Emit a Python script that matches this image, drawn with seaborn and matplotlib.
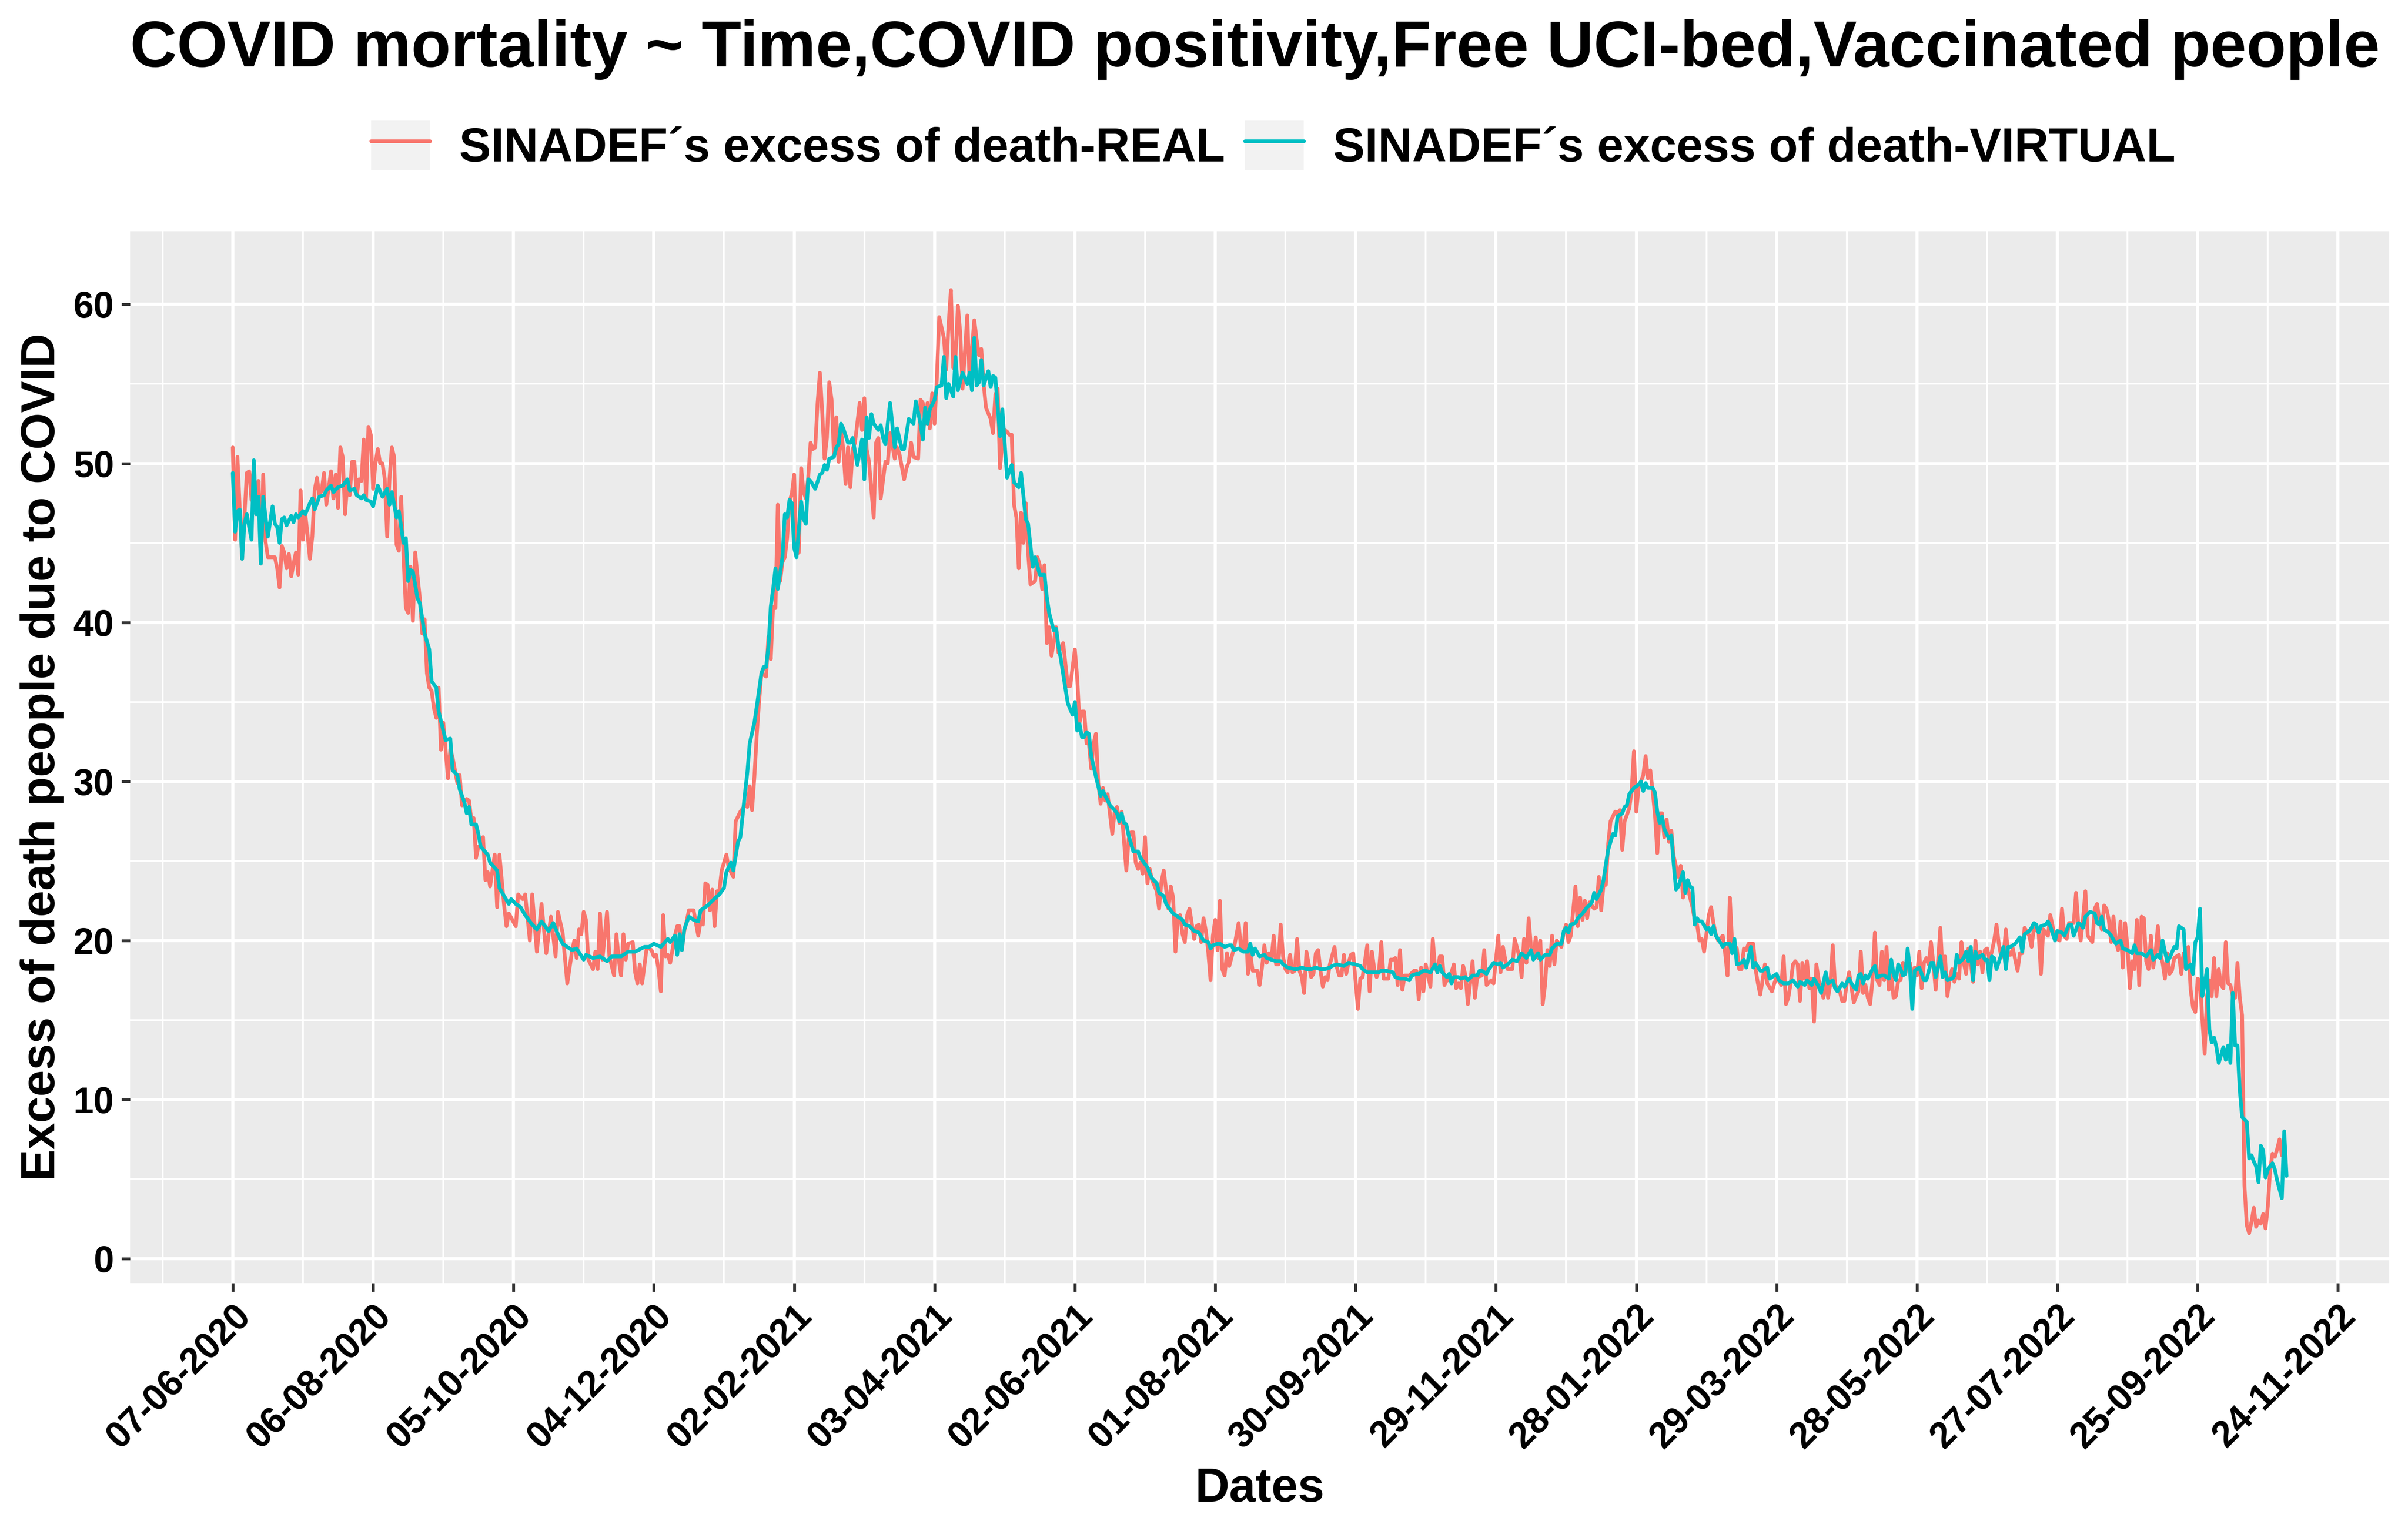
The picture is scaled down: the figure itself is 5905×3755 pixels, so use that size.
import numpy as np
import pandas as pd
import matplotlib
matplotlib.use("Agg")
import matplotlib.pyplot as plt
import matplotlib.dates as mdates
from matplotlib.ticker import FixedLocator, NullFormatter
from matplotlib.patches import Patch
from matplotlib.lines import Line2D
from matplotlib.legend_handler import HandlerTuple
import seaborn as sns

# days counted from the first date of the series
start = pd.Timestamp("2020-06-07")

real_day = [0,1,2,3,4,6,7,8,9,10, 11,12,13,14,15,16,18,19,20,21, 22,23,24,25,26,27,28,29,30,31,
            32,33,34,35,36,37,38,39,40,42, 43,44,45,46,47,48,49,50,51,52, 53,54,55,56,57,58,59,60,61,62,
            63,64,65,66,67,68,69,70,71,72, 73,74,75,76,77,78,79,80,81,82, 83,84,85,86,87,88,89,90,92,93,
            94,95,96,97,98,100,101,102,103,104, 105,106,107,108,109,110,112,113,114,116,
            117,118,121,122,124,125,127,128,130,132, 134,136,138,139,141,143,145,146,147,148,
            149,150,151,152,154,155,156,157,158,160, 161,163,164,165,166,167,168,169,171,172,
            173,174,175,177,179,180,181,182,183,184, 185,186,187,189,190,191,192,193,194,195,
            197,199,200,201,202,203,204,205,206,207, 208,209,211,212,213,214,215,217,219,220,
            221,222,223,224,225,226,228,229,230,231, 232,233,234,235,236,237,238,239,240,241,
            242,243,244,245,246,247,248,249,250,251, 252,253,254,255,256,257,258,259,260,261,
            262,263,264,265,266,268,269,270,271,272, 274,275,276,277,279,280,281,283,284,285,
            287,288,289,290,291,293,294,295,296,297, 298,299,300,301,302,304,305,306,307,308,
            309,310,311,312,314,315,316,317,318,319, 320,321,322,324,325,326,327,328,329,330,
            331,332,333,334,335,336,337,338,339,340, 341,343,344,345,346,347,348,349,350,351,
            352,353,355,357,358,360,361,362,363,364, 365,366,367,368,369,370,371,372,373,374,
            376,377,378,379,380,382,383,384,385,386, 387,388,389,390,391,392,393,395,396,397,
            398,400,401,402,403,404,405,406,407,408, 409,411,412,413,414,415,416,417,418,419,
            420,421,422,423,424,425,426,428,430,431, 432,433,434,435,436,438,439,440,441,442,
            443,444,445,446,447,448,449,450,451,452, 453,454,455,456,457,458,459,460,461,462,
            463,464,465,466,467,468,469,471,472,473, 474,475,476,477,478,479,481,482,483,484,
            485,486,487,488,489,490,491,492,494,495, 496,497,498,499,500,501,503,505,506,507,
            508,509,510,512,513,514,515,516,517,518, 519,520,522,523,524,525,526,527,528,530,
            531,532,534,535,536,538,539,541,542,543, 544,545,547,548,550,551,552,553,554,555,
            556,557,558,559,560,561,562,563,564,565, 566,568,569,570,571,572,574,575,576,577,
            578,579,580,582,583,584,585,586,587,588, 589,591,592,593,594,595,597,598,599,600,
            601,603,604,605,606,607,608,609,610,611, 612,613,614,615,616,618,619,620,621,622,
            624,625,626,627,628,629,631,632,633,634, 635,637,638,639,640,641,642,643,644,645,
            646,647,648,650,651,652,653,654,655,656, 658,659,660,662,663,664,665,666,667,668,
            669,670,671,672,673,674,675,676,677,678, 680,681,682,683,684,685,687,688,689,690,
            691,693,694,695,696,697,698,699,700,701, 702,703,704,705,706,707,708,709,710,711,
            712,713,714,715,716,717,718,719,720,721, 722,723,724,725,726,727,728,729,730,731,
            732,733,734,735,736,737,738,739,740,741, 742,743,744,745,746,747,748,749,750,751,
            752,753,754,755,756,757,758,759,760,761, 763,764,765,766,768,769,770,772,773,774,
            776,777,778,779,781,782,783,784,785,787, 788,789,790,791,792,793,794,795,796,797,
            798,799,800,801,802,803,804,805,806,807, 808,809,810,811,812,813,814,815,816,817,
            818,819,820,821,822,823,824,825,826,827, 828,829,830,832,833,834,835,836,837,838,
            839,840,841,842,843,844,845,846,847,848, 849,850,851,852,853,854,855,856,857,858,
            859,860,861,862,863,864,865,866,867,868, 869,870,871,872,873,874,875,876]
real_val = [51,45.2,50.4,47.1,44,49.4,49.5,47.7,49.9,46.8, 48.9,43.7,49.3,45.1,44.1,44.1,44.1,43.4,42.2,44.8,
            44.4,43.4,44.3,42.9,43.7,44.4,43,48.3,45.2,46.8, 45.5,44,45.4,48.3,49.1,48,48.3,49.4,47.4,49.5,
            47.8,49.3,47.2,51,50.4,46.8,48.8,48,50.1,50.1, 48,49,48.9,51.5,47.8,52.3,51.8,48.4,50,50.9,
            50,50,49,45.4,49,51,50.4,44.9,44.5,47.9, 44.1,40.9,40.6,43.5,40.1,44.4,42.9,41.5,39.3,40.2,
            36.8,35.9,35.7,34.6,34,35.9,32,33.7,30.2,32, 31.5,30.7,29.9,30.4,28.5,28.9,28.8,27.6,27.7,25.2,
            25.9,25.9,26.5,23.8,24.3,23.4,25.4,22.1,25.4,22.2, 20.9,21.7,20.9,22.9,22.6,22.9,20,22.9,19.3,22.3,
            19.2,21.5,19,21.8,20.5,17.3,19.3,20,18.9,20.7, 20.4,21.8,21.3,18.8,18.2,19.3,18.2,21.7,18.8,21.8,
            19,17.8,20.4,18.8,17.8,20.4,18.8,19.8,19.9,18, 17.3,18.5,17.3,19.6,19.4,19,19.1,18.2,16.8,21.6,
            19,19.1,18.6,20.3,20.9,20.9,19.4,20.6,21.2,21.9, 21.9,20.3,21.2,21,23.6,23.5,21.9,23.2,20.9,23.1,
            23.1,24.4,25.4,24.6,24.3,24,27.5,28.1,28.5,28.4, 29.7,28.2,30.3,32.9,35,36.8,36.6,39.1,37.7,41,
            40.9,47.4,42.6,43.8,44.1,45.3,47.6,48.1,49.3,44.3, 44.4,49.7,48.2,47.8,49.1,51.3,50.9,51,53.8,55.7,
            53.2,50.3,51.6,55.1,54,50.6,52.9,50.1,52.1,50.9, 48.7,51,48.5,50.9,51.3,53.8,52.1,54.1,50.9,50.1,
            46.6,51.3,51.6,47.8,50.1,50,51.9,50.3,51,50.6, 49,49.7,50.1,51.3,50.4,50.3,54,53.8,52.5,53.8,
            52.2,54.4,52.5,55.4,59.2,57.9,55.9,58.7,60.9,56, 56.8,59.9,58.2,54.7,59.3,55.1,57.2,59,57.8,56.8,
            57.2,55,53.5,52.8,51.9,54.3,54.7,49.7,51.3,52.1, 52,51.8,51.8,47.4,46.6,43.4,46.9,45,47.5,44.4,
            42.4,42.6,44.1,43.6,42.1,43.6,38.7,39.7,37.9,38.8, 39.7,38.1,38.7,36,36,38.3,36.5,33.7,34.4,34.4,
            32.4,32.4,30.8,32.4,33,29.9,28.6,29.6,28.8,29.2, 26.7,28.1,28.4,27.4,28.1,24.4,26.4,26.8,26.8,24.9,
            24.5,24.9,24.2,26.5,23.6,24.5,23.8,23.1,22,23.7, 24.4,22,23.4,22.7,19.3,21.4,21.6,20.4,19.9,21.6,
            22,20.1,20.9,21,19.9,21.4,20.6,19.3,17.5,20.3, 21.3,19.4,22.5,18.2,17.8,19.2,18.4,19.5,21.1,19.5,
            19.5,21.1,17.9,19.2,18.1,18.1,17.2,18.3,19.7,18.6, 19.2,18.8,20.3,18.5,18.5,21,19,18.2,18,19.1,
            18,18.1,20.1,18.1,17.7,16.7,19.3,18.5,17.7,17.9, 19.2,19.4,18.1,17.1,17.7,17.5,18.5,19.6,18.3,17.8,
            17.8,19.1,17.9,18.6,19.1,19.2,15.7,17.6,17.7,18.7, 19.7,16.8,19.3,18.2,17.7,18.1,19.9,17.6,17.6,18.8,
            18.8,18.9,17.2,19.4,16.9,17.8,17.8,18.1,18.1,16.3, 18.3,16.8,18.5,17.1,20.1,18.3,18,19,19,17.2,
            17.5,17.5,18.5,17,17.3,17,18.4,17.8,16,18.7, 16.4,17.7,17.8,19.4,17.2,17.5,17.3,20.3,18,19.6,
            18.8,18.2,18.2,20.1,19,17.7,20.1,18.6,21.4,19.6, 18.9,20.2,18.9,20,16,17.2,19.4,18.4,20.3,18.5,
            20,19.6,20.5,21,19.9,20.3,23.4,20.9,22.7,21.3, 22.5,21.4,22.4,22,22.1,24,21.9,23.5,23.5,26.1,
            27.5,28.1,28,28.2,25.7,27.5,28.3,29.4,31.9,28.1, 29.6,30.4,31.6,30.2,30.7,29.4,27.9,25.5,28,28,
            26.5,27.6,26.2,26.9,25.3,24,24.7,22.7,23.7,23.3, 22.1,21.3,21,20,20.1,19.3,21.6,22.1,21.1,20.4,
            20,20.3,19.2,17.8,22.7,19.8,19.7,19.5,18.2,18.2, 19.5,19.4,19.8,19.8,18.2,17.3,16.6,17.5,18.5,17.3,
            16.8,17.3,17.7,17.2,19,16,16.4,17.3,18.5,18.7, 18.5,16.2,18.6,17.6,18.7,17,17.6,14.9,18.5,17.5,
            16.4,17.5,16.4,17.3,19.7,17.2,16.8,16.2,16.2,17.3, 18,16.1,16.5,16.8,19.3,16.7,17.2,16.4,16,17.5,
            20.5,17.5,17.2,19.3,17.5,19.6,16.9,17.9,16.4,16.5, 17.5,17.5,18.6,17.9,18.6,18.6,17.5,18.3,17.8,19.3,
            17,18.6,18.9,18.5,19.9,18.6,16.9,18.7,20.8,17.9, 19,16.5,17.6,18.2,17.4,17.9,17.6,19.9,18.6,17.9,
            19.5,18.6,17.4,20,18.5,19.3,18,19.4,19.5,18.8, 19.3,20,21,19.8,19,19,20.7,19.1,19.1,19.5,
            18.1,19.2,19.2,20.8,20.3,19.6,20.8,20.5,17.9,20.7, 20.3,21.6,20.9,20.2,20,22,20.3,20.1,21.1,21.1,
            23,21,20,21.4,23.1,20.3,20.1,19.9,22,22.3, 21.3,20.7,22.2,22,21.3,19.9,21.5,20,19.4,21.2,
            18.3,21.1,19.6,17,18.7,18.2,21.3,17.2,21.5,21.4, 18.7,18.2,20.3,18.3,19.3,20.9,19.2,18.6,17.6,19.2,
            17.9,18.1,18.9,19.1,17.9,19.2,18.2,19.6,16.9,15.8, 15.5,17.6,17.5,15,12.9,16.5,17.5,16.5,18.9,16.5,
            18.2,17.2,17,19.9,17.3,17.2,16.5,16.4,18.6,16.4, 15.3,4.6,2.1,1.6,2.3,3.2,2,2.4,2.2,2.8,
            1.9,3.3,5.6,6.6,6.4,6.9,7.5,6.5]

virt_day = [0,1,2,3,4,5,6,8,9,10, 11,12,13,15,17,18,19,20,21,22, 23,25,26,27,28,30,31,33,34,35,
            37,39,40,42,43,45,47,49,50,52, 53,55,56,57,59,60,62,64,66,67, 68,70,71,73,74,75,76,77,79,80,
            82,83,84,85,87,88,90,91,93,94, 96,97,99,100,101,102,104,105,106,109, 110,113,114,116,118,119,121,123,125,127,
            128,130,132,135,137,139,141,144,145,147, 150,151,154,157,160,162,166,169,172,176,
            178,180,183,186,187,189,190,191,192,193, 195,197,199,200,203,205,208,210,211,213,
            214,216,217,219,220,221,223,224,226,227, 228,229,230,231,232,233,235,236,237,238,
            239,240,241,243,244,245,246,247,249,251, 252,253,254,255,257,258,259,260,261,263,
            264,265,267,269,270,271,272,273,274,276, 277,278,279,281,283,284,286,287,289,291,
            292,294,295,296,297,298,300,301,303,304, 305,306,308,309,310,312,314,315,316,317,
            318,319,320,321,323,324,325,326,328,329, 331,333,334,336,337,339,340,342,343,345,
            346,347,348,349,351,352,353,354,356,357, 359,360,361,362,363,364,365,366,367,369,
            370,371,372,373,375,377,378,379,380,381, 382,383,384,385,387,388,389,391,392,393,
            395,396,398,399,400,402,404,406,407,409, 411,413,415,417,418,419,421,422,424,426,
            427,428,430,432,434,435,436,437,439,441, 442,444,446,448,449,451,454,455,457,459,
            461,463,465,467,469,470,472,475,477,480, 482,483,485,487,489,490,491,493,496,497,
            499,501,503,504,506,507,509,510,512,514, 515,516,517,519,520,521,522,524,525,527,
            528,530,532,533,534,536,537,539,541,542, 543,545,547,549,551,553,555,556,558,559,
            561,563,564,566,568,569,570,571,572,574, 575,577,579,580,581,582,583,585,586,587,
            588,590,591,592,594,595,596,597,599,601, 602,603,604,605,607,608,609,610,611,612,
            614,615,616,617,618,620,621,622,623,624, 625,626,627,628,630,631,632,633,634,635,
            637,638,640,641,642,643,645,646,647,649, 650,651,653,654,656,657,659,660,661,663,
            665,667,669,670,672,673,675,676,678,679, 681,682,684,685,686,688,689,691,692,694,
            695,696,697,698,699,701,702,703,705,706, 708,709,710,711,712,713,714,715,716,717,
            718,719,721,722,723,724,726,727,728,730, 731,732,733,735,736,737,738,740,741,742,
            743,744,745,746,748,749,750,751,752,753, 754,756,757,758,759,760,762,764,765,766,
            768,769,770,771,772,773,775,776,777,779, 780,782,783,785,786,787,789,790,791,792,
            794,796,797,798,799,800,802,803,805,806, 807,808,810,812,813,814,816,818,820,821,
            823,824,825,826,827,828,830,831,832,834, 835,837,838,839,840,841,842,843,844,845,
            846,847,848,849,851,852,853,854,855,856, 857,858,859,861,862,863,864,865,866,867,
            868,869,870,872,873,874,876,877,878]
virt_val = [49.4,45.7,47,47.1,44,46.2,46.8,45.2,50.2,46.8, 47.9,43.7,47.9,45.4,47.3,46.2,46,45,46.5,46.6,
            46.1,46.7,46.3,46.8,46.6,47,46.8,47.5,47.8,47.1, 47.9,48,48.3,48.6,48.2,48.5,48.6,49,48.3,48.4,
            48,47.8,48,47.7,47.6,47.3,48.6,47.9,48.4,47.4, 48.2,46.6,47,45,45.3,42.6,43.3,43.2,41.5,41.2,
            39.3,38.8,38.3,36.3,35.9,34.4,33.2,32.6,32.7,30.7, 30.4,29.5,28.7,28,28.4,27.3,27.3,26.7,25.9,25.4,
            24.9,24.4,23.3,22.8,22.3,22.6,22.3,22.1,21.6,21.2, 21,20.7,21.2,20.6,21.1,20.4,19.8,19.5,19.4,19.5,
            18.8,19.1,18.9,19,18.7,19,19,19.3,19.3,19.6, 19.6,19.8,19.6,20.1,19.9,20.3,19.1,20.4,19.4,20.7,
            21.5,21.3,21.2,21.9,22.2,22.5,22.9,23.3,24.3,24.9, 24.4,26.2,26.5,29.3,30.6,32.4,33.7,34.7,36.8,37.2,
            37.2,38.5,41,42.1,43.4,42.1,44.1,46.8,46.6,47.7, 47.5,44.7,44.1,47.6,46.5,46.2,49,48.9,48.4,49.3,
            49.4,49.9,49.6,50.3,50.4,51,51.2,52.5,52.2,51.3, 51.3,51.6,49.9,51.5,49,52.9,51.6,53.1,52.5,52.1,
            52.4,51.6,51.2,53.8,51,52.2,50.9,50.9,52.8,52.5, 53.9,52.5,51.5,53.5,52.5,53.4,54,54.8,54.9,56.7,
            54.1,55,54.2,56.7,54.6,55.7,55,55.7,54.6,57.9, 54.9,55.1,56.5,54.9,55.8,54.8,55.5,55.4,51.7,53.4,
            49.1,49.9,48.8,48.5,49.4,46.5,46.2,43.5,44.1,43, 43,43,41.6,40.6,39.5,39.6,38.5,37.7,35.8,34.9,
            34.2,35,33.2,33.6,32.8,32.8,33.1,33,31.6,30.3, 29.7,29.1,29.4,29.1,28.5,28.2,28,27.5,28,27.4,
            27.3,26.6,26.1,25.6,25.6,25.2,25,24.6,24.2,23.9, 23.6,23,22.8,22.3,22.1,21.7,21.5,21.3,21,20.9,
            20.6,20.5,20,19.9,19.5,19.7,19.8,19.8,19.6,19.7, 19.7,19.4,19.5,19.3,19.3,19.8,19.1,19.5,19,19.1,
            18.9,18.8,18.7,18.7,18.5,18.3,18.2,18.2,18.3,18.2, 18.2,18.3,18.2,18.2,18.3,18.4,18.5,18.4,18.6,18.5,
            18.4,18.2,18,18,18,18,18.1,18.1,18,17.7, 17.6,17.6,17.5,17.8,17.9,17.9,18.1,18.1,18,18.5,
            18,18.4,18,17.7,17.9,17.3,17.7,17.7,17.6,17.7, 17.5,17.8,17.8,18.1,18.1,17.9,18.2,18.6,18.5,18.6,
            18.3,18.5,18.8,18.7,19.2,18.9,19.4,18.8,19.2,18.8, 19.1,19.1,19.5,19.8,19.8,20.6,20.8,20.5,21,21.1,
            21.4,21.7,22.1,22.2,22.4,23,22.6,23.2,23.8,24.8, 25.7,26.7,26.6,27.8,28,28.4,28.5,29.2,29.6,29.8,
            30,29.4,29.9,29.6,29.6,29.3,28.1,27.4,27.8,27, 26.4,26.6,24.8,23.2,23.4,24.3,23,23.8,23.4,23.3,
            21,21.4,21.2,21.2,20.7,20.8,20.4,20.9,20.3,20.1, 19.6,19.8,19.8,19.2,20.1,18.5,18.6,18.8,18.3,19.6,
            18.3,18.6,18.1,18.1,18.3,17.6,17.8,17.9,17.5,17.3, 17.3,17.5,17.1,17.4,17.2,17.5,17.2,17.6,17.1,16.7,
            18,17.3,17.5,17,16.8,17.3,17.1,17.6,17.3,16.9, 17.8,17.9,17.3,17.8,17.6,18.2,18.4,17.7,17.8,17.8,
            17.6,18.8,17.9,17.5,18.5,18.2,17.8,17.9,19.5,18.2, 15.7,18.1,18.3,17.9,17.5,17.5,18.6,18.6,17.7,19,
            17.7,18,17.5,17.6,17.8,19.1,18.6,18.9,19.3,18.7, 19.6,17.5,19.3,18.9,19.1,18.8,18.8,17.5,19,18.9,
            18.2,19.1,19.6,18.2,19.6,19.6,19.8,20.2,19.3,20.4, 20.6,20.8,21.1,21,20.5,20.9,21,21.2,20.9,20,
            20.6,20.5,20.3,21,21,20.3,21.1,21,20.8,21.5, 21.8,21.7,21.1,21,21.5,20.7,20.5,20.3,19.8,19.9,
            20,19.5,19.4,19.2,19.7,19.2,19.2,19,19.4,18.8, 19.1,18.9,20,19.3,18.7,18.9,19.6,19.5,20.9,20.7,
            18.2,18.5,17.9,19.9,20.2,22,16.5,17.3,18.2,14.4, 13.6,13.9,13.3,12.3,13.3,12.5,13.4,12.3,16.7,13.4,
            13.4,10.6,8.9,8.6,6.3,6.5,6.1,5.8,4.8,7.1, 6.8,5.1,5.6,6,5.6,4.9,3.8,8,5.2]

series_names = ["SINADEF\u00b4s excess of death-REAL", "SINADEF\u00b4s excess of death-VIRTUAL"]
series_colors = ["#F8766D", "#00BFC4"]
title = "COVID mortality ~ Time,COVID positivity,Free UCI-bed,Vaccinated people"

df = pd.concat([
    pd.DataFrame({"date": start + pd.to_timedelta(real_day, unit="D"), "value": real_val,
                  "series": series_names[0]}),
    pd.DataFrame({"date": start + pd.to_timedelta(virt_day, unit="D"), "value": virt_val,
                  "series": series_names[1]}),
], ignore_index=True)

sns.set_theme(style="darkgrid", rc={"axes.facecolor": "#EBEBEB", "grid.color": "white"})
plt.rcParams["font.family"] = ["Liberation Sans", "DejaVu Sans"]
plt.rcParams["font.weight"] = "bold"
plt.rcParams["axes.labelweight"] = "bold"
plt.rcParams["text.color"] = "black"
plt.rcParams["axes.labelcolor"] = "black"

W, H = 5905, 3755
fig = plt.figure(figsize=(W / 300, H / 300), dpi=300)
ax = fig.add_axes([319 / W, 1 - 3147 / H, (5859 - 319) / W, (3147 - 567) / H])

sns.lineplot(data=df, x="date", y="value", hue="series", palette=dict(zip(series_names, series_colors)),
             estimator=None, sort=False, linewidth=2.2, legend=False, ax=ax)

# x scale like ggplot: 5% expansion, breaks every 60 days
d0, d1 = min(real_day + virt_day), max(real_day + virt_day)
pad = 0.05 * (d1 - d0)
t0 = mdates.date2num(start)
ax.set_xlim(t0 + d0 - pad, t0 + d1 + pad)
ax.xaxis.set_major_locator(FixedLocator([t0 + 60 * k for k in range(16)]))
ax.xaxis.set_minor_locator(FixedLocator([t0 + 60 * k - 30 for k in range(17)]))
ax.xaxis.set_major_formatter(mdates.DateFormatter("%d-%m-%Y"))
ax.xaxis.set_minor_formatter(NullFormatter())

ax.set_ylim(-1.54, 64.6)
ax.yaxis.set_major_locator(FixedLocator(np.arange(0, 61, 10)))
ax.yaxis.set_minor_locator(FixedLocator(np.arange(5, 66, 10)))

ax.grid(which="major", color="white", linewidth=1.8)
ax.grid(which="minor", color="white", linewidth=1.05)
for s in ax.spines.values():
    s.set_visible(False)

ax.tick_params(which="major", direction="out", length=5, width=1.7, color="#333333",
               labelsize=21.5, labelcolor="black", pad=4.5)
ax.tick_params(which="minor", length=0)
ax.tick_params(axis="x", which="major", bottom=True, pad=4)
ax.tick_params(axis="y", which="major", left=True)
plt.setp(ax.get_xticklabels(), rotation=45, ha="right", va="top", rotation_mode="anchor")

ax.set_xlabel("Dates", fontsize=28, fontweight="bold")
ax.set_ylabel("Excess of death people due to COVID", fontsize=28, fontweight="bold")
ax.xaxis.label.set_va("baseline")
ax.xaxis.set_label_coords(0.5, (3147 - 3683) / (3147 - 567))
ax.yaxis.label.set_va("baseline")
ax.yaxis.set_label_coords((134 - 319) / (5859 - 319), 0.5)

fig.text(319 / W, 1 - 162.6 / H, title, fontsize=38.2, fontweight="bold", ha="left", va="baseline")

handles = [(Patch(facecolor="#F2F2F2", edgecolor="none"), Line2D([], [], color=c, linewidth=2.2))
           for c in series_colors]
fig.legend(handles, series_names, handler_map={tuple: HandlerTuple(ndivide=1, pad=0)},
           loc="center", bbox_to_anchor=(3122 / W, 1 - 358 / H), ncol=2, frameon=False,
           prop={"size": 28, "weight": "bold"}, handlelength=1.24, handleheight=1.24,
           handletextpad=0.61, columnspacing=0.42, borderpad=0, borderaxespad=0)

fig.savefig("out.png", dpi=300, facecolor="white")
